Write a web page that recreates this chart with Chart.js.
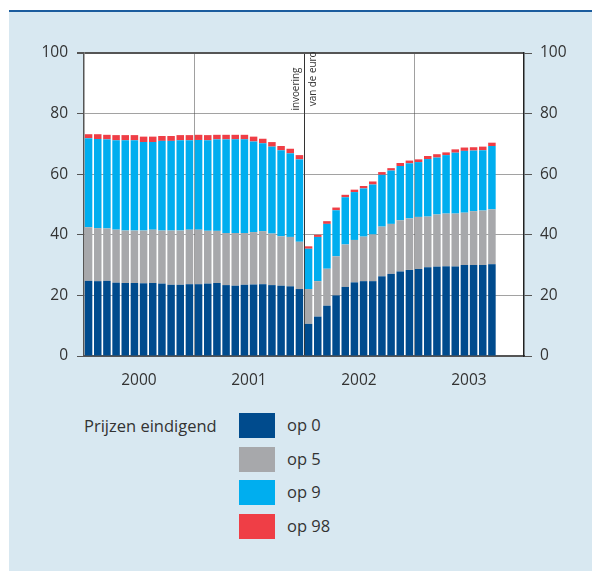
<!DOCTYPE html>
<html>
<head>
<meta charset="utf-8">
<script src="https://cdn.jsdelivr.net/npm/chart.js@4.4.1/dist/chart.umd.min.js"></script>
<style>
  body { margin: 0; background: #fff; font-family: "Open Sans", sans-serif; }
  #panel { position: absolute; left: 9px; top: 10px; width: 583px; height: 559px;
           background: #d8e8f1; border-top: 2px solid #1b5c9e; }
  #wrap { position: absolute; left: 0; top: 0; width: 592px; height: 400px; }
  #legend { position: absolute; left: 0; top: 0; color: #333; font-size: 16.5px; line-height: 22px; }
  .ttl { position: absolute; left: 84px; top: 415px; white-space: nowrap; }
  .box { position: absolute; left: 239px; width: 36px; height: 25px; }
  .lbl { position: absolute; left: 287px; white-space: nowrap; }
</style>
</head>
<body>
<div id="panel"></div>
<div id="wrap"><canvas id="myChart"></canvas></div>
<div id="legend"></div>
<script>
// jaren en maanden (jan 2000 - dec 2003, data tot sep 2003)
const years = ["2000", "2001", "2002", "2003"];
const monthNames = ["jan","feb","mrt","apr","mei","jun","jul","aug","sep","okt","nov","dec"];
const yTicks = [0, 20, 40, 60, 80, 100];

const seriesNames = ["op 0", "op 5", "op 9", "op 98"];
const seriesColors = ["#004b8d", "#a7a8ab", "#00aeef", "#ef3e46"];

const op0 = [24.8,24.7,24.8,24.2,24.1,24.1,24.0,24.1,23.9,23.5,23.5,23.7,
             23.7,23.9,24.1,23.4,23.2,23.5,23.6,23.7,23.4,23.2,23.0,22.1,
             10.6,13.0,16.6,20.0,22.8,24.3,24.7,24.7,26.3,27.1,27.9,28.4,
             28.7,29.3,29.5,29.6,29.5,30.0,30.0,30.0,30.3];
const op5 = [17.7,17.5,17.3,17.5,17.3,17.3,17.4,17.6,17.5,17.9,17.9,18.0,
             18.0,17.4,17.2,17.2,17.4,17.1,17.3,17.5,17.0,16.3,16.3,15.6,
             11.5,11.7,12.2,12.9,14.0,14.0,14.7,15.4,16.4,16.5,16.9,17.0,
             17.2,16.7,17.2,17.4,17.5,17.3,17.8,18.0,18.1];
const op9 = [29.4,29.4,29.4,29.5,29.8,29.8,29.2,28.9,29.6,29.6,29.8,29.5,
             29.6,29.9,30.2,30.9,30.9,30.9,29.9,29.0,28.7,28.4,27.6,27.2,
             13.3,14.6,14.8,15.2,15.6,15.8,15.9,16.5,17.1,17.6,17.9,18.2,
             18.1,19.0,18.8,19.3,20.1,20.4,20.0,19.9,20.9];
const op98 = [1.3,1.6,1.5,1.7,1.7,1.7,1.8,1.8,1.6,1.6,1.7,1.7,
              1.7,1.7,1.5,1.5,1.5,1.5,1.6,1.5,1.5,1.4,1.5,1.4,
              0.8,0.7,0.9,0.9,0.8,0.8,0.8,1.0,0.9,0.8,1.0,0.9,
              0.9,1.0,1.1,0.9,1.1,1.1,1.1,1.2,1.1];

const euroNote = ["invoering", "van de euro"];

var labels = [];
years.forEach(function(y){ monthNames.forEach(function(m){ labels.push(m + " " + y); }); });

var seriesData = [op0, op5, op9, op98];
var dataset = seriesData.map(function(d, i){
  return {
    label: seriesNames[i],
    data: d,
    backgroundColor: seriesColors[i],
    borderWidth: 0,
    barPercentage: 0.82,
    categoryPercentage: 1.0
  };
});

// legenda als html
var lg = document.getElementById("legend");
var t = document.createElement("div");
t.className = "ttl"; t.innerText = "Prijzen eindigend";
lg.appendChild(t);
seriesNames.forEach(function(n, i){
  var top = 413 + i * 33.7;
  var b = document.createElement("div");
  b.className = "box"; b.style.top = top + "px"; b.style.background = seriesColors[i];
  lg.appendChild(b);
  var l = document.createElement("div");
  l.className = "lbl"; l.style.top = (top + 1) + "px"; l.innerText = n;
  lg.appendChild(l);
});

const plotBg = {
  id: "plotBg",
  beforeDraw: function(chart){
    var a = chart.chartArea, c = chart.ctx;
    c.save(); c.fillStyle = "#fff";
    c.fillRect(a.left, a.top, a.right - a.left, a.bottom - a.top);
    c.restore();
  },
  afterDraw: function(chart){
    var c = chart.ctx, x = chart.scales.x, y = chart.scales.y;
    var xl = (x.getPixelForValue(23) + x.getPixelForValue(24)) / 2;
    var yb = y.getPixelForValue(80) - 3;
    c.save();
    c.fillStyle = "#333";
    c.font = "11.5px 'Open Sans'";
    c.textAlign = "left";
    c.translate(xl, yb);
    c.rotate(-Math.PI / 2);
    c.scale(0.86, 1);
    c.textBaseline = "bottom";
    c.fillText(euroNote[0], 0, -3);
    c.textBaseline = "top";
    c.fillText(euroNote[1], 5, 3);
    c.restore();
  }
};

var gridCol = "rgba(70,70,70,0.5)";

new Chart("myChart", {
  type: "bar",
  data: { labels: labels, datasets: dataset },
  plugins: [plotBg],
  options: {
    responsive: true,
    maintainAspectRatio: false,
    animation: false,
    layout: { padding: { top: 53, left: 0, right: 0, bottom: 0 } },
    plugins: { legend: { display: false }, tooltip: { enabled: false } },
    scales: {
      x: {
        stacked: true,
        z: 1,
        afterFit: function(s){ s.height = 44; },
        border: { color: "#555", width: 2 },
        grid: {
          offset: true,
          drawTicks: false,
          color: function(ctx){
            if (ctx.index === 24) return "#333";
            if (ctx.index === 12 || ctx.index === 36) return "rgba(120,120,120,0.7)";
            return "rgba(0,0,0,0)";
          }
        },
        ticks: {
          autoSkip: false,
          maxRotation: 0,
          padding: 15,
          labelOffset: -4.6,
          color: "#333",
          font: { family: "Open Sans", size: 15.5 },
          callback: function(v, i){ return i % 12 === 6 ? years[(i - 6) / 12] : ""; }
        }
      },
      y: {
        stacked: true,
        z: 1,
        min: 0, max: 100,
        afterFit: function(s){ s.width = 84; },
        afterBuildTicks: function(s){ s.ticks = yTicks.map(function(v){ return { value: v }; }); },
        border: { color: "#555", width: 1.5 },
        grid: {
          tickLength: 7,
          tickColor: "#555",
          color: function(ctx){
            var v = ctx.tick ? ctx.tick.value : 0;
            return (v === 0 || v === 100) ? "#555" : gridCol;
          },
          lineWidth: function(ctx){
            var v = ctx.tick ? ctx.tick.value : 0;
            return (v === 100) ? 2 : 1;
          }
        },
        ticks: { padding: 9, color: "#333", font: { family: "Open Sans", size: 15.5 } }
      },
      y2: {
        position: "right",
        min: 0, max: 100,
        z: 1,
        afterFit: function(s){ s.width = 68; },
        afterBuildTicks: function(s){ s.ticks = yTicks.map(function(v){ return { value: v }; }); },
        border: { color: "#222", width: 1.5 },
        grid: { drawOnChartArea: false, tickLength: 8, tickColor: "#555" },
        ticks: { padding: 8, color: "#333", font: { family: "Open Sans", size: 15.5 } }
      }
    }
  }
});
</script>
</body>
</html>
